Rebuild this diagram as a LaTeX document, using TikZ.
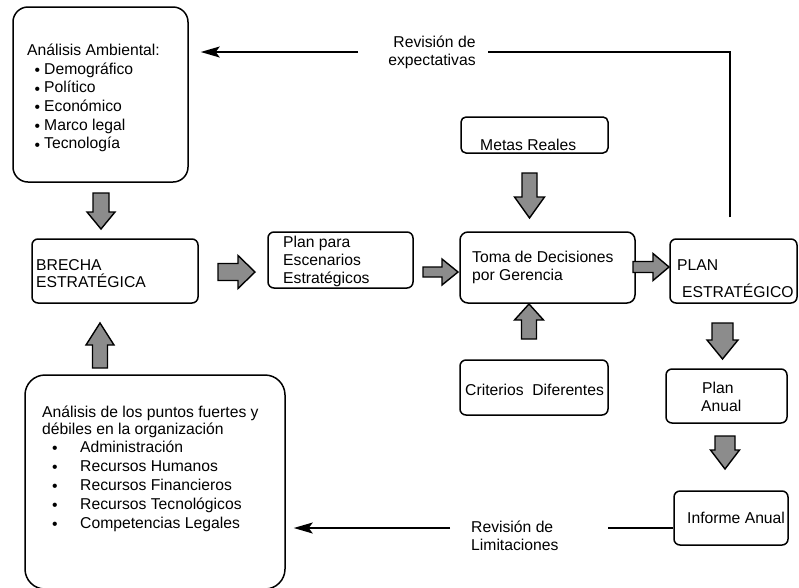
\documentclass[tikz,border=0pt]{standalone}
\usepackage{fontspec}
\setmainfont{Liberation Sans}
\usetikzlibrary{arrows.meta,calc}
\definecolor{fatgray}{gray}{0.55}
\tikzset{
  box/.style={draw, rectangle, line width=1.5pt, rounded corners=#1, inner sep=0pt},
  box/.default=6pt,
  lbl/.style={inner sep=0pt, anchor=base west, font=\fontsize{15.7}{19}\selectfont},
  clbl/.style={lbl, anchor=base},
  link/.style={line width=1.4pt},
  tip/.style={-{Stealth[length=19pt,width=11pt,inset=4pt]}},
  pics/fatarrow/.style n args={4}{code={
    \draw[line width=1.4pt, fill=fatgray, line join=miter]
      (0,-#2) -- ({#1-#4},-#2) -- ({#1-#4},-#3) -- (#1,0)
      -- ({#1-#4},#3) -- ({#1-#4},#2) -- (0,#2) -- cycle;}}
}
\begin{document}
\begin{tikzpicture}[x=1pt,y=-1pt]
\useasboundingbox (0,0) rectangle (799,587);

% boxes
\node[box=15pt, minimum width=175pt, minimum height=175pt] (amb)    at (100.5,94.5) {};
\node[box,      minimum width=166pt, minimum height=64pt]  (brecha) at (115,271) {};
\node[box,      minimum width=145pt, minimum height=56pt]  (plan)   at (340.5,260) {};
\node[box=5pt,  minimum width=147pt, minimum height=36pt]  (metas)  at (534.5,135) {};
\node[box=8pt,  minimum width=175pt, minimum height=71pt]  (toma)   at (547.5,267.5) {};
\node[box,      minimum width=148pt, minimum height=55pt]  (crit)   at (534,387.5) {};
\node[box,      minimum width=127pt, minimum height=64pt]  (pe)     at (733.5,271) {};
\node[box,      minimum width=121pt, minimum height=54pt]  (anual)  at (726.5,396) {};
\node[box,      minimum width=114pt, minimum height=54pt]  (inf)    at (731,518) {};
\node[box=20pt, minimum width=260pt, minimum height=214pt] (fort)   at (155,482) {};

% environmental analysis
\node[lbl] (ambh) at (27,55) {Análisis Ambiental:};
\foreach \y/\t [count=\i] in {74/Demográfico, 92.7/Político, 111.4/Económico, 130.1/Marco legal, 148.8/Tecnología}{
  \node[lbl] (ambb\i) at (34.5,\y+1.5) {•};
  \node[lbl] (ambt\i) at (44,\y) {\t};
}

% strengths and weaknesses
\node[lbl] (forth1) at (42,417) {Análisis de los puntos fuertes y};
\node[lbl] (forth2) at (42,434.5) {débiles en la organización};
\foreach \y/\t [count=\i] in {452/Administración, 471/Recursos Humanos, 490/Recursos Financieros, 509/Recursos Tecnológicos, 528/Competencias Legales}{
  \node[lbl] (fortb\i) at (52,\y+1.5) {•};
  \node[lbl] (fortt\i) at (80,\y) {\t};
}

% box texts
\node[lbl] (brecha1) at (36,270) {BRECHA};
\node[lbl] (brecha2) at (36,287) {ESTRATÉGICA};
\node[lbl] (plan1) at (283,247) {Plan para};
\node[lbl] (plan2) at (283,265) {Escenarios};
\node[lbl] (plan3) at (283,283) {Estratégicos};
\node[lbl] (metas1) at (480,150) {Metas Reales};
\node[lbl] (toma1) at (472,262) {Toma de Decisiones};
\node[lbl] (toma2) at (472,280) {por Gerencia};
\node[lbl] (crit1) at (465,395) {Criterios\ \ Diferentes};
\node[lbl] (pe1) at (677,270) {PLAN};
\node[lbl] (pe2) at (682,297) {ESTRATÉGICO};
\node[lbl] (anual1) at (702,393) {Plan};
\node[lbl] (anual2) at (701,411) {Anual};
\node[lbl] (inf1) at (687,523) {Informe Anual};

% feedback labels
\node[clbl] (revexp1) at (434.5,47) {Revisión de};
\node[clbl] (revexp2) at (432,65) {expectativas};
\node[lbl] (revlim1) at (471,532) {Revisión de};
\node[lbl] (revlim2) at (471,550) {Limitaciones};

% fat flow arrows
\pic[rotate=-90] at (101,193)   {fatarrow={36}{8}{14}{17}};
\pic             at (218,272)   {fatarrow={37}{8.5}{16.5}{17}};
\pic             at (423,272)   {fatarrow={35}{5}{13}{16}};
\pic[rotate=-90] at (529.5,173) {fatarrow={45}{7.5}{15}{21}};
\pic[rotate=90]  at (529,339)   {fatarrow={35}{7.5}{14.5}{16}};
\pic             at (633,267)   {fatarrow={36}{5.5}{13.5}{16}};
\pic[rotate=-90] at (722.5,323) {fatarrow={36}{10.5}{15.5}{19}};
\pic[rotate=-90] at (725,436)   {fatarrow={33}{10}{14.5}{19}};
\pic[rotate=90]  at (100,368)   {fatarrow={45}{7.5}{14}{22}};

% review of expectations
\coordinate (expCorner) at (730,52);
\coordinate (expGapR) at (488,52);
\coordinate (expGapL) at (358,52);
\draw[link] ([xshift=-3.5pt,yshift=21pt]pe.north) -- (expCorner) -- (expGapR);
\draw[link,tip,shorten >=12pt] (expGapL) -- (expGapL -| amb.east);

% review of limitations
\coordinate (limGapR) at (608,528);
\coordinate (limGapL) at (450,528);
\draw[link] ([yshift=-10pt]inf.west) -- (limGapR);
\draw[link,tip,shorten >=8pt] (limGapL) -- (limGapL -| fort.east);
\end{tikzpicture}
\end{document}
